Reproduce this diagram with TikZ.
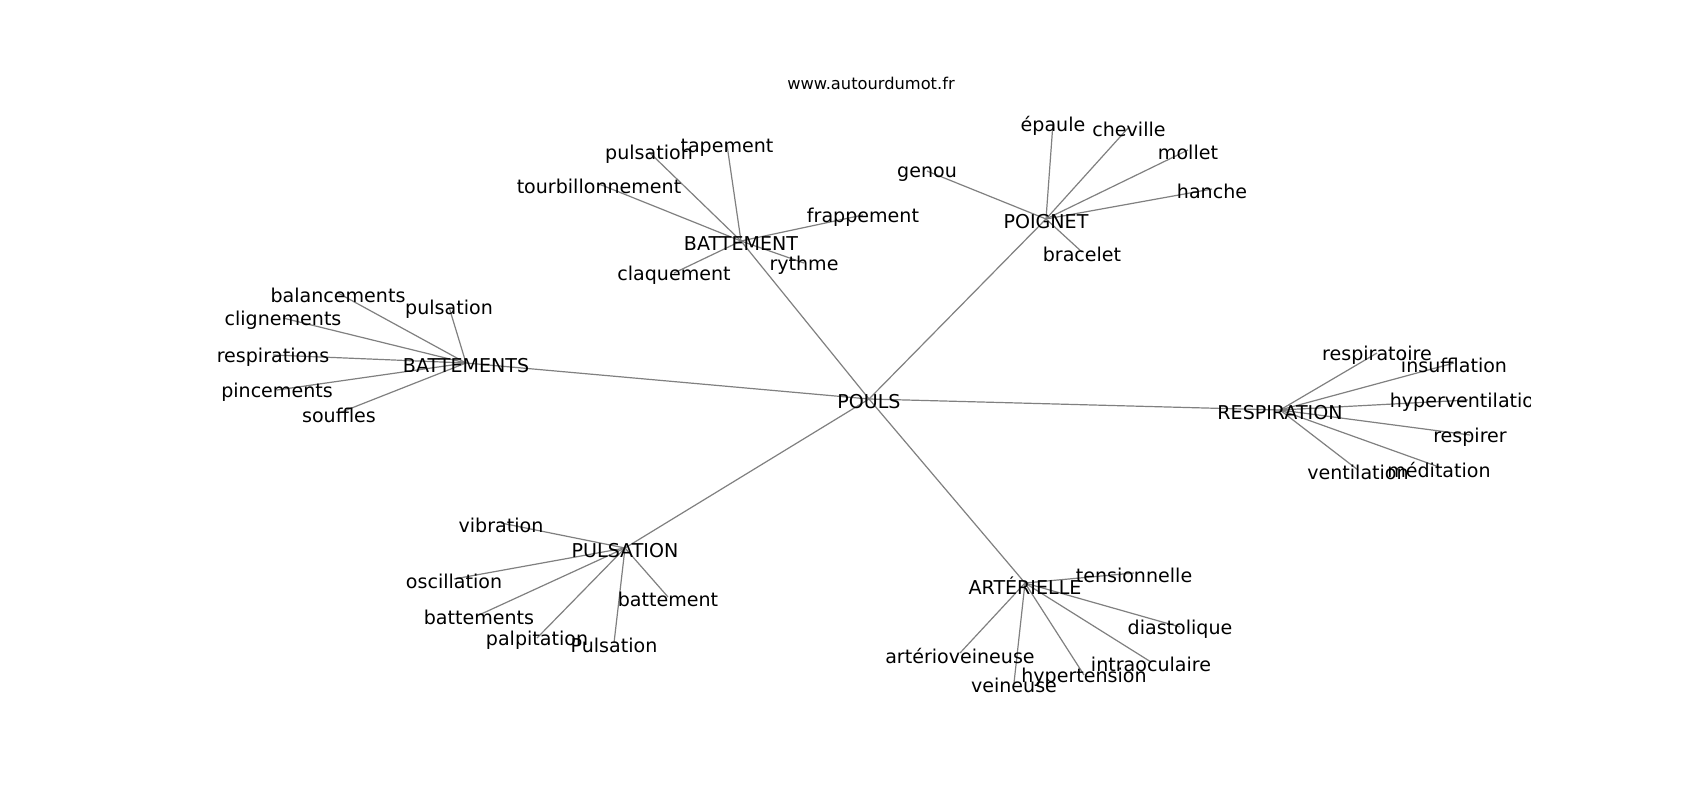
\documentclass[tikz,border=0pt]{standalone}
\usepackage{fontspec}
\setmainfont{DejaVu Sans}
\usetikzlibrary{backgrounds}
\tikzset{
  lbl/.style={inner sep=0pt, yshift=-2pt, font=\fontsize{14.3}{16}\selectfont, text=black},
  hub/.style={lbl},
  edge/.style={draw=gray, line width=0.9pt},
  ttl/.style={inner sep=0pt, font=\fontsize{12.2}{14}\selectfont}
}
\newcommand{\pt}[1]{([yshift=2pt]#1.center)}
\begin{document}
\begin{tikzpicture}[x=0.75pt, y=-0.75pt]
\useasboundingbox (0,0) rectangle (1700,800);
\node[ttl] (title) at (871,83) {www.autourdumot.fr};
\begin{scope}
\clip (0,0) rectangle (1530,800);
% hubs
\node[hub] (pouls) at (869,399) {POULS};
\node[hub] (bat) at (741,241) {BATTEMENT};
\node[hub] (poi) at (1046,219) {POIGNET};
\node[hub] (bats) at (466,363) {BATTEMENTS};
\node[hub] (resp) at (1280,410) {RESPIRATION};
\node[hub] (puls) at (625,548) {PULSATION};
\node[hub] (art) at (1025,583) {ARTÉRIELLE};
% BATTEMENT
\node[lbl] (b1) at (649,152) {pulsation};
\node[lbl] (b2) at (727,145) {tapement};
\node[lbl] (b3) at (599,184) {tourbillonnement};
\node[lbl] (b4) at (863,215) {frappement};
\node[lbl] (b5) at (804,263) {rythme};
\node[lbl] (b6) at (674,273) {claquement};
% POIGNET
\node[lbl] (p1) at (1053,123) {épaule};
\node[lbl] (p2) at (1129,127) {cheville};
\node[lbl] (p3) at (1188,150) {mollet};
\node[lbl] (p4) at (1212,189) {hanche};
\node[lbl] (p5) at (927,171) {genou};
\node[lbl] (p6) at (1082,252) {bracelet};
% BATTEMENTS
\node[lbl] (s1) at (338,293) {balancements};
\node[lbl] (s2) at (449,307) {pulsation};
\node[lbl] (s3) at (283,318) {clignements};
\node[lbl] (s4) at (273,355) {respirations};
\node[lbl] (s5) at (277,390) {pincements};
\node[lbl] (s6) at (339,413) {souffles};
% RESPIRATION
\node[lbl] (r1) at (1377,353) {respiratoire};
\node[lbl] (r2) at (1454,363) {insufflation};
\node[lbl] (r3) at (1468,400) {hyperventilation};
\node[lbl] (r4) at (1470,435) {respirer};
\node[lbl] (r5) at (1439,467) {méditation};
\node[lbl] (r6) at (1358,470) {ventilation};
% PULSATION
\node[lbl] (u1) at (501,523) {vibration};
\node[lbl] (u2) at (454,579) {oscillation};
\node[lbl] (u3) at (479,615) {battements};
\node[lbl] (u4) at (537,638) {palpitation};
\node[lbl] (u5) at (614,643) {Pulsation};
\node[lbl] (u6) at (668,597) {battement};
% ARTERIELLE
\node[lbl] (a1) at (1134,573) {tensionnelle};
\node[lbl] (a2) at (1180,627) {diastolique};
\node[lbl] (a3) at (1151,662) {intraoculaire};
\node[lbl] (a4) at (1084,675) {hypertension};
\node[lbl] (a5) at (1014,683) {veineuse};
\node[lbl] (a6) at (960,653) {artérioveineuse};
\begin{pgfonlayer}{background}
\fill[white] (0,0) rectangle (1700,800);
\foreach \h in {bat,poi,bats,resp,puls,art}
  \draw[edge] \pt{pouls} -- \pt{\h};
\foreach \c in {b1,b2,b3,b4,b5,b6}
  \draw[edge] \pt{bat} -- \pt{\c};
\foreach \c in {p1,p2,p3,p4,p5,p6}
  \draw[edge] \pt{poi} -- \pt{\c};
\foreach \c in {s1,s2,s3,s4,s5,s6}
  \draw[edge] \pt{bats} -- \pt{\c};
\foreach \c in {r1,r2,r3,r4,r5,r6}
  \draw[edge] \pt{resp} -- \pt{\c};
\foreach \c in {u1,u2,u3,u4,u5,u6}
  \draw[edge] \pt{puls} -- \pt{\c};
\foreach \c in {a1,a2,a3,a4,a5,a6}
  \draw[edge] \pt{art} -- \pt{\c};
\end{pgfonlayer}
\end{scope}
\end{tikzpicture}
\end{document}
